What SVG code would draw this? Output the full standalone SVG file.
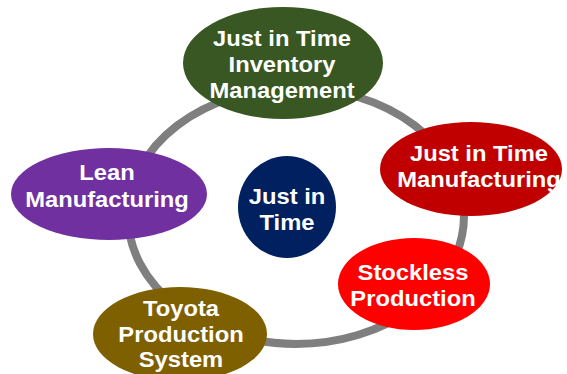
<svg xmlns="http://www.w3.org/2000/svg" width="567" height="374" viewBox="0 0 567 374">
<style>
.lbl{font-family:"Liberation Sans",Arial,sans-serif;font-weight:bold;font-size:22px;fill:#ffffff;text-anchor:middle}
.ring{fill:none;stroke:#7f7f7f;stroke-width:8}
</style>
<rect width="567" height="374" fill="#ffffff"/>
<g id="connectors">
<ellipse class="ring" cx="296" cy="216" rx="168" ry="128"/>
</g>
<g id="jit-inventory">
<ellipse cx="283" cy="63" rx="100" ry="56" fill="#385723"/>
<g transform="translate(282,0) scale(1.08,1)">
<text class="lbl" x="0" y="46">Just in Time</text>
<text class="lbl" x="0" y="72">Inventory</text>
<text class="lbl" x="0" y="98">Management</text>
</g>
</g>
<g id="jit-manufacturing">
<ellipse cx="471" cy="169" rx="91" ry="47" fill="#c00000"/>
<g transform="translate(479,0) scale(1.08,1)">
<text class="lbl" x="0" y="161">Just in Time</text>
<text class="lbl" x="0" y="187">Manufacturing</text>
</g>
</g>
<g id="stockless">
<ellipse cx="414" cy="284" rx="76" ry="46" fill="#ff0000"/>
<g transform="translate(413,0) scale(1.08,1)">
<text class="lbl" x="0" y="280">Stockless</text>
<text class="lbl" x="0" y="306">Production</text>
</g>
</g>
<g id="toyota">
<ellipse cx="180" cy="334" rx="87" ry="47" fill="#7f6000"/>
<g transform="translate(181,0) scale(1.08,1)">
<text class="lbl" x="0" y="316">Toyota</text>
<text class="lbl" x="0" y="342">Production</text>
<text class="lbl" x="0" y="367">System</text>
</g>
</g>
<g id="lean">
<ellipse cx="109" cy="194" rx="98" ry="46" fill="#7030a0"/>
<g transform="translate(107,0) scale(1.08,1)">
<text class="lbl" x="0" y="180">Lean</text>
<text class="lbl" x="0" y="207">Manufacturing</text>
</g>
</g>
<g id="center">
<ellipse cx="287" cy="207" rx="49" ry="51" fill="#002060"/>
<g transform="translate(287,0) scale(1.08,1)">
<text class="lbl" x="0" y="204">Just in</text>
<text class="lbl" x="0" y="230">Time</text>
</g>
</g>
</svg>
